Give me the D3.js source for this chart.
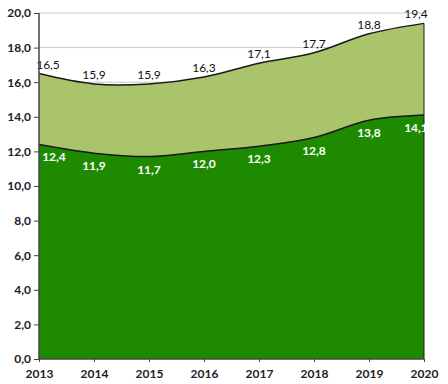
<!DOCTYPE html>
<html>
<head>
<meta charset="utf-8">
<script src="https://cdn.jsdelivr.net/npm/d3@7"></script>
<style>
  body { margin: 0; background: #fff; }
  text { font-family: Lato, "Open Sans", sans-serif; }
</style>
</head>
<body>
<div id="chart"></div>
<script>
// data
const years = [2013, 2014, 2015, 2016, 2017, 2018, 2019, 2020];
const totalValues = [16.5, 15.9, 15.9, 16.3, 17.1, 17.7, 18.8, 19.4];
const baseValues = [12.4, 11.9, 11.7, 12.0, 12.3, 12.8, 13.8, 14.1];
const yTicks = [0, 2, 4, 6, 8, 10, 12, 14, 16, 18, 20];

const width = 448, height = 384;
const margin = {top: 13, right: 24, bottom: 25, left: 39};

const svg = d3.select("#chart").append("svg")
    .attr("width", width)
    .attr("height", height);

const x = d3.scalePoint()
    .domain(years)
    .range([margin.left, width - margin.right]);

const y = d3.scaleLinear()
    .domain([0, 20])
    .range([height - margin.bottom, margin.top]);

const fmt = v => d3.format(".1f")(v).replace(".", ",");

// gridlines
svg.append("g")
    .selectAll("line")
    .data(yTicks.filter(d => d > 0))
    .enter().append("line")
    .attr("x1", margin.left)
    .attr("x2", width - margin.right)
    .attr("y1", d => y(d))
    .attr("y2", d => y(d))
    .attr("stroke", "#c8c8c8")
    .attr("stroke-width", 1);

const curve = d3.curveCatmullRom.alpha(0.5);

const area = d3.area()
    .x((d, i) => x(years[i]))
    .y0(y(0))
    .y1(d => y(d))
    .curve(curve);

svg.append("path")
    .datum(totalValues)
    .attr("d", area)
    .attr("fill", "#a9c46b");

svg.append("path")
    .datum(baseValues)
    .attr("d", area)
    .attr("fill", "#1e8a00");

const line = d3.line()
    .x((d, i) => x(years[i]))
    .y(d => y(d))
    .curve(curve);

[totalValues, baseValues].forEach(vals => {
    svg.append("path")
        .datum(vals)
        .attr("d", line)
        .attr("fill", "none")
        .attr("stroke", "#1a1a1a")
        .attr("stroke-width", 1.5);
});

// right edge of the area
svg.append("line")
    .attr("x1", x(2020)).attr("x2", x(2020))
    .attr("y1", y(totalValues[7])).attr("y2", y(0))
    .attr("stroke", "#1a1a1a")
    .attr("stroke-width", 1);

const clampX = (v, lo) => Math.max(margin.left + lo, Math.min(width - margin.right - 8, v));

// labels
svg.append("g")
    .selectAll("text")
    .data(totalValues)
    .enter().append("text")
    .attr("x", (d, i) => clampX(x(years[i]), 9))
    .attr("y", d => y(d) - 5)
    .attr("text-anchor", "middle")
    .attr("font-size", 12)
    .attr("fill", "#111")
    .text(fmt);

svg.append("g")
    .selectAll("text")
    .data(baseValues)
    .enter().append("text")
    .attr("x", (d, i) => clampX(x(years[i]), 15))
    .attr("y", d => y(d) + 17)
    .attr("text-anchor", "middle")
    .attr("font-size", 12)
    .attr("font-weight", "bold")
    .attr("fill", "#fff")
    .text(fmt);

// axes
const yAxis = svg.append("g")
    .attr("transform", `translate(${margin.left},0)`)
    .call(d3.axisLeft(y).tickValues(yTicks).tickFormat(fmt).tickSize(5).tickPadding(3));

const xAxis = svg.append("g")
    .attr("transform", `translate(0,${height - margin.bottom})`)
    .call(d3.axisBottom(x).tickSize(3).tickPadding(7));

[yAxis, xAxis].forEach(g => {
    g.select(".domain").attr("stroke", "#444").attr("stroke-width", 1.5);
    g.selectAll(".tick line").attr("stroke", "#444");
    g.selectAll("text")
        .attr("font-family", "Lato, sans-serif")
        .attr("font-size", 12)
        .attr("font-weight", "bold")
        .attr("fill", "#222");
});
xAxis.select(".domain").attr("d", `M${margin.left},0H${width - margin.right}`);
yAxis.select(".domain").attr("d", `M0,${y(0)}V${y(20)}`);
</script>
</body>
</html>
